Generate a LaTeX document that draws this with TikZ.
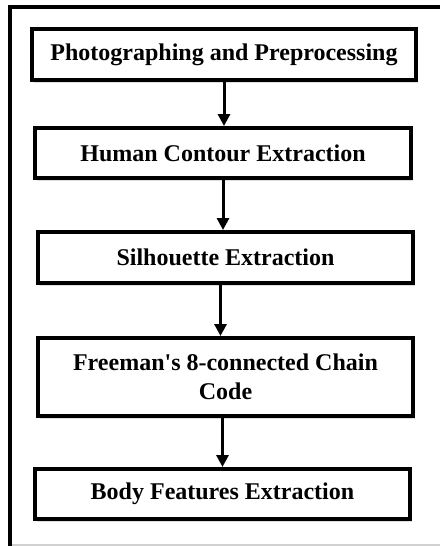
\documentclass[tikz,border=0pt]{standalone}
\usepackage{fontspec}
\setmainfont{Liberation Serif}
\usetikzlibrary{arrows.meta,shadows}
\begin{document}
\begin{tikzpicture}[x=1pt,y=-1pt,
  stepbox/.style={draw=black, line width=4pt, fill=white, inner sep=0pt,
    minimum height=50pt, align=center,
    font=\fontsize{24}{29}\selectfont\bfseries,
    drop shadow={shadow xshift=2pt, shadow yshift=-3pt, opacity=0.25, fill=gray}},
  arr/.style={line width=3pt, -{Triangle[length=12pt,width=12pt]}}]
\useasboundingbox (0,0) rectangle (440,546);
\fill[white] (0,0) rectangle (440,546);
% outer frame
\draw[line width=3.5pt] (8,7) -- (440,7);
\draw[line width=3.5pt] (10,7) -- (10,546);
\draw[line width=2pt, black!18] (12,545) -- (440,545);
% boxes
\node[stepbox, minimum width=384pt, minimum height=51pt] (b1) at (224,54.5) {Photographing and Preprocessing};
\node[stepbox, minimum width=376pt] (b2) at (223,153) {Human Contour Extraction};
\node[stepbox, minimum width=375pt, minimum height=51pt] (b3) at (225.5,257.5) {Silhouette Extraction};
\node[stepbox, minimum width=375pt, minimum height=78pt] (b4) at (225.5,377) {Freeman\textquotesingle s 8-connected Chain\\Code};
\node[stepbox, minimum width=375pt] (b5) at (222.5,494) {Body Features Extraction};
% arrows
\draw[arr] (b1.south) -- (b1.south |- b2.north);
\draw[arr] (b2.south) -- (b2.south |- b3.north);
\draw[arr] ([xshift=-5pt]b3.south) -- ([xshift=-5pt]b3.south |- b4.north);
\draw[arr] ([xshift=-3pt]b4.south) -- ([xshift=-3pt]b4.south |- b5.north);
\end{tikzpicture}
\end{document}
